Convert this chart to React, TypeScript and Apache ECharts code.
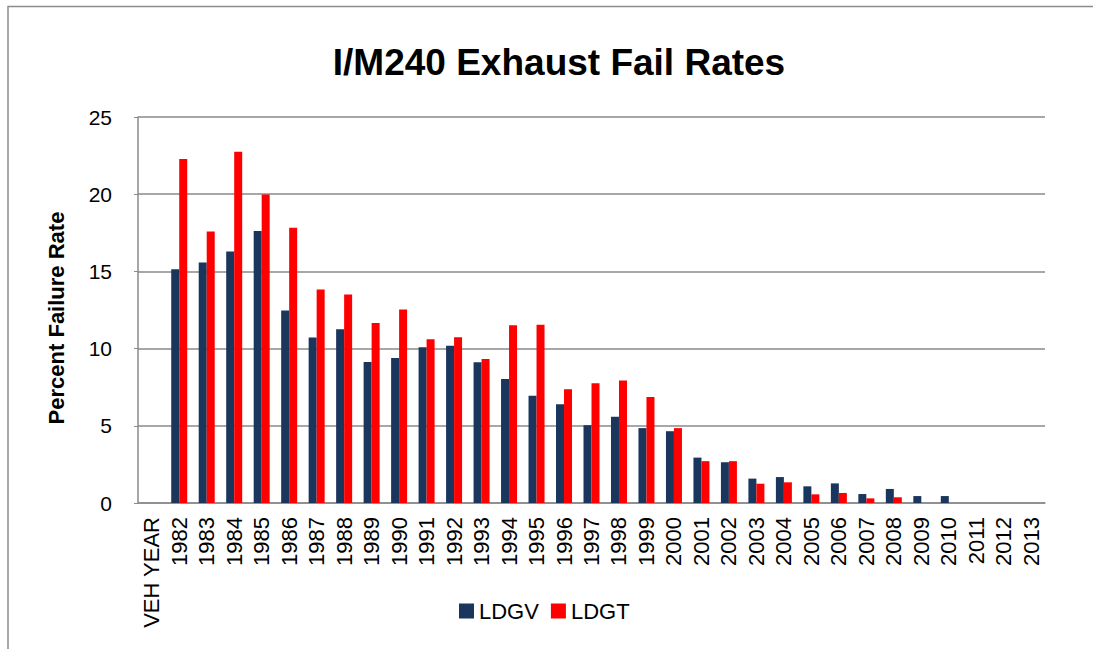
import React, { useEffect, useRef } from "react";
import * as echarts from "echarts";

const categories = [
  "VEH YEAR", "1982", "1983", "1984", "1985", "1986", "1987", "1988", "1989", "1990",
  "1991", "1992", "1993", "1994", "1995", "1996", "1997", "1998", "1999", "2000",
  "2001", "2002", "2003", "2004", "2005", "2006", "2007", "2008", "2009", "2010",
  "2011", "2012", "2013",
];

const ldgv = [
  null, 15.14, 15.57, 16.29, 17.61, 12.47, 10.72, 11.26, 9.13, 9.39,
  10.09, 10.19, 9.11, 8.03, 6.95, 6.39, 5.04, 5.58, 4.85, 4.65,
  2.94, 2.64, 1.58, 1.68, 1.08, 1.27, 0.58, 0.91, 0.45, 0.45,
  null, null, null,
];

const ldgt = [
  null, 22.28, 17.59, 22.75, 19.98, 17.83, 13.82, 13.51, 11.65, 12.54,
  10.61, 10.74, 9.33, 11.52, 11.54, 7.36, 7.75, 7.94, 6.86, 4.85,
  2.71, 2.71, 1.25, 1.34, 0.56, 0.65, 0.30, 0.37, null, null,
  null, null, null,
];

const yTicks = { min: 0, max: 25, interval: 5 };

const FONT = "'Liberation Sans', Arial, sans-serif";

export default function App() {
  const ref = useRef<HTMLDivElement>(null);

  useEffect(() => {
    if (!ref.current) return;
    const chart = echarts.init(ref.current, null, { renderer: "svg" });
    chart.setOption({
      animation: false,
      backgroundColor: "#ffffff",
      grid: { left: 138, right: 48, top: 117, bottom: 146, containLabel: false },
      legend: {
        left: 454,
        top: 595,
        itemWidth: 15,
        itemHeight: 15,
        itemGap: 12,
        icon: "rect",
        textStyle: { fontFamily: FONT, fontSize: 22, color: "#000" },
        data: ["LDGV", "LDGT"],
      },
      xAxis: {
        type: "category",
        data: categories,
        axisLine: { lineStyle: { color: "#8a8a8a", width: 1.5 } },
        axisTick: { show: false },
        axisLabel: {
          interval: 0,
          rotate: 90,
          margin: 14,
          fontFamily: FONT,
          fontSize: 22,
          color: "#000",
        },
      },
      yAxis: {
        type: "value",
        min: yTicks.min,
        max: yTicks.max,
        interval: yTicks.interval,
        axisLine: { show: true, lineStyle: { color: "#8a8a8a", width: 1.5 } },
        axisTick: { show: true, length: 4, lineStyle: { color: "#8a8a8a" } },
        splitLine: { lineStyle: { color: "#8a8a8a", width: 1.5 } },
        axisLabel: { margin: 26, fontFamily: FONT, fontSize: 21, color: "#000" },
      },
      series: [
        {
          name: "LDGV",
          type: "bar",
          data: ldgv,
          barWidth: 8,
          barGap: "0%",
          itemStyle: { color: "#1b365d" },
        },
        {
          name: "LDGT",
          type: "bar",
          data: ldgt,
          barWidth: 8,
          barGap: "0%",
          itemStyle: { color: "#ff0000" },
        },
      ],
      graphic: [
        {
          type: "rect",
          shape: { x: 8, y: 6.5, width: 1200, height: 700 },
          style: { fill: "none", stroke: "#8c8c8c", lineWidth: 1.5 },
          silent: true,
        },
        {
          type: "text",
          x: 559,
          y: 62,
          style: {
            text: "I/M240 Exhaust Fail Rates",
            fontFamily: FONT,
            fontSize: 37,
            fontWeight: "bold",
            fill: "#000",
            textAlign: "center",
            textVerticalAlign: "middle",
          },
        },
        {
          type: "text",
          x: 56,
          y: 318,
          rotation: Math.PI / 2,
          style: {
            text: "Percent Failure Rate",
            fontFamily: FONT,
            fontSize: 22,
            fontWeight: "bold",
            fill: "#000",
            textAlign: "center",
            textVerticalAlign: "middle",
          },
        },
      ],
    });
    return () => chart.dispose();
  }, []);

  return (
    <div
      ref={ref}
      style={{ position: "absolute", left: 0, top: 0, width: 1093, height: 649 }}
    />
  );
}
